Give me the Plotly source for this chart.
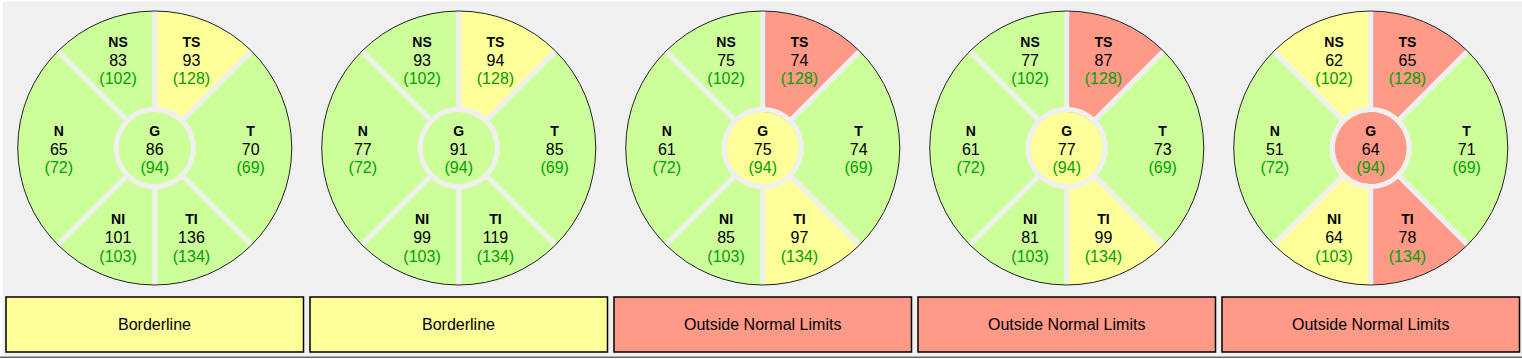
import numpy as np
import plotly.graph_objects as go

W, H = 1522, 359

# ---- data ----
sectors = ["TS", "T", "TI", "NI", "N", "NS", "G"]
normative = [128, 69, 134, 103, 72, 102, 94]
eye1_values = [93, 70, 136, 101, 65, 83, 86]
eye2_values = [94, 85, 119, 99, 77, 93, 91]
eye3_values = [74, 74, 97, 85, 61, 75, 75]
eye4_values = [87, 73, 99, 81, 61, 77, 77]
eye5_values = [65, 71, 78, 64, 51, 62, 64]
eye1_class = ["B", "N", "N", "N", "N", "N", "N"]
eye2_class = ["B", "N", "N", "N", "N", "N", "N"]
eye3_class = ["O", "N", "B", "N", "N", "N", "B"]
eye4_class = ["O", "N", "B", "N", "N", "N", "B"]
eye5_class = ["O", "N", "O", "B", "N", "B", "O"]
summaries = ["Borderline", "Borderline", "Outside Normal Limits",
             "Outside Normal Limits", "Outside Normal Limits"]
summary_class = ["B", "B", "O", "O", "O"]

all_values = [eye1_values, eye2_values, eye3_values, eye4_values, eye5_values]
all_class = [eye1_class, eye2_class, eye3_class, eye4_class, eye5_class]

# ---- style ----
BG = "#f0f0f0"
COLORS = {"N": "#ccff99", "B": "#ffff99", "O": "#ff9988"}
REF_GREEN = "#00a000"
FONT = "Liberation Sans, Arial, sans-serif"

theta_mid = [67.5, 0, -67.5, -112.5, 180, 112.5]
theta_width = [45, 90, 45, 45, 90, 45]
boundaries = [90, 45, -45, -90, -135, 135]

R = 137.0          # outer radius (px)
RG = 36.0          # inner disk radius
RING = 38.5        # gap ring radius
TEXT_R = 0.70 * R
LINE_DY = 18.5     # text line spacing (px)
TEXT_SHIFT = -2.5  # vertical nudge of all text (px, up positive)
CY = 148.0
X0, PITCH = 154.75, 304.0
BOX_W, BOX_TOP, BOX_BOT = 297.5, 297.0, 352.0


def line_positions(dy):
    """polar (r, theta) of text lines shifted vertically by dy px (up positive)."""
    rs, ts = [], []
    for rr, th in zip([TEXT_R] * 6 + [0.0], theta_mid + [0]):
        x = rr * np.cos(np.radians(th))
        y = rr * np.sin(np.radians(th)) + dy + TEXT_SHIFT
        rs.append(float(np.hypot(x, y)))
        ts.append(float(np.degrees(np.arctan2(y, x))))
    return rs, ts


fig = go.Figure()
layout_polars = {}

for i in range(5):
    pname = "polar" if i == 0 else f"polar{i+1}"
    vals = all_values[i]
    cls = all_class[i]
    cx = X0 + PITCH * i

    # outer sectors
    fig.add_trace(go.Barpolar(
        r=[R] * 6, theta=theta_mid, width=theta_width,
        marker=dict(color=[COLORS[c] for c in cls[:6]], line=dict(width=0)),
        subplot=pname, hoverinfo="skip", showlegend=False))
    # center disk
    fig.add_trace(go.Barpolar(
        r=[RG], theta=[0], width=[360],
        marker=dict(color=COLORS[cls[6]], line=dict(width=0)),
        subplot=pname, hoverinfo="skip", showlegend=False))
    # separators (from ring to outer edge)
    sr, st = [], []
    for a in boundaries:
        sr += [RING, R, None]
        st += [a, a, None]
    fig.add_trace(go.Scatterpolar(
        r=sr, theta=st, mode="lines", line=dict(color=BG, width=5),
        subplot=pname, hoverinfo="skip", showlegend=False))
    # ring
    ring_t = np.linspace(0, 360, 241)
    fig.add_trace(go.Scatterpolar(
        r=[RING] * len(ring_t), theta=ring_t, mode="lines",
        line=dict(color=BG, width=5),
        subplot=pname, hoverinfo="skip", showlegend=False))

    # text lines: label / value / normative
    lines = [
        (LINE_DY, [f"<b>{s}</b>" for s in sectors], 14, "#000000"),
        (0.0, [str(v) for v in vals], 16, "#000000"),
        (-LINE_DY, [f"({n})" for n in normative], 16, REF_GREEN),
    ]
    for dy, txt, size, color in lines:
        rs, ts = line_positions(dy)
        fig.add_trace(go.Scatterpolar(
            r=rs, theta=ts, mode="text", text=txt,
            textposition="middle center",
            textfont=dict(family=FONT, size=size, color=color),
            subplot=pname, hoverinfo="skip", showlegend=False))

    layout_polars[pname] = dict(
        domain=dict(x=[(cx - R) / W, (cx + R) / W],
                    y=[1 - (CY + R) / H, 1 - (CY - R) / H]),
        bgcolor="rgba(0,0,0,0)",
        barmode="overlay",
        hole=0,
        radialaxis=dict(visible=False, range=[0, R]),
        angularaxis=dict(showline=True, linecolor="#222222", linewidth=1,
                         showgrid=False, ticks="", showticklabels=False,
                         rotation=0, direction="counterclockwise"),
    )

shapes = []
annotations = []
for i in range(5):
    cx = X0 + PITCH * i
    x0, x1 = cx - BOX_W / 2, cx + BOX_W / 2
    shapes.append(dict(
        type="rect", xref="paper", yref="paper",
        x0=x0 / W, x1=x1 / W, y0=1 - BOX_BOT / H, y1=1 - BOX_TOP / H,
        fillcolor=COLORS[summary_class[i]],
        line=dict(color="#000000", width=1.5), layer="above"))
    annotations.append(dict(
        x=cx / W, y=1 - (BOX_TOP + BOX_BOT) / 2 / H, xref="paper", yref="paper",
        text=summaries[i], showarrow=False, xanchor="center", yanchor="middle",
        font=dict(family=FONT, size=16, color="#000000")))

# window frame details
shapes.append(dict(type="rect", xref="paper", yref="paper", x0=0, x1=1,
                   y0=1 - 1.5 / H, y1=1, fillcolor="#ffffff", line=dict(width=0)))
shapes.append(dict(type="rect", xref="paper", yref="paper", x0=0, x1=2.5 / W,
                   y0=0, y1=1, fillcolor="#ffffff", line=dict(width=0)))
shapes.append(dict(type="rect", xref="paper", yref="paper", x0=0, x1=1,
                   y0=0, y1=1.5 / H, fillcolor="#ffffff", line=dict(width=0)))
shapes.append(dict(type="line", xref="paper", yref="paper", x0=0, x1=1,
                   y0=1.8 / H, y1=1.8 / H, line=dict(color="#222222", width=1)))

fig.update_layout(
    width=W, height=H,
    margin=dict(l=0, r=0, t=0, b=0),
    paper_bgcolor=BG, plot_bgcolor=BG,
    showlegend=False,
    shapes=shapes, annotations=annotations,
    **layout_polars,
)

fig.write_html(
    "out.html",
    config={"displayModeBar": False},
    post_script="document.body.style.margin='0';document.body.style.overflow='hidden';",
)
